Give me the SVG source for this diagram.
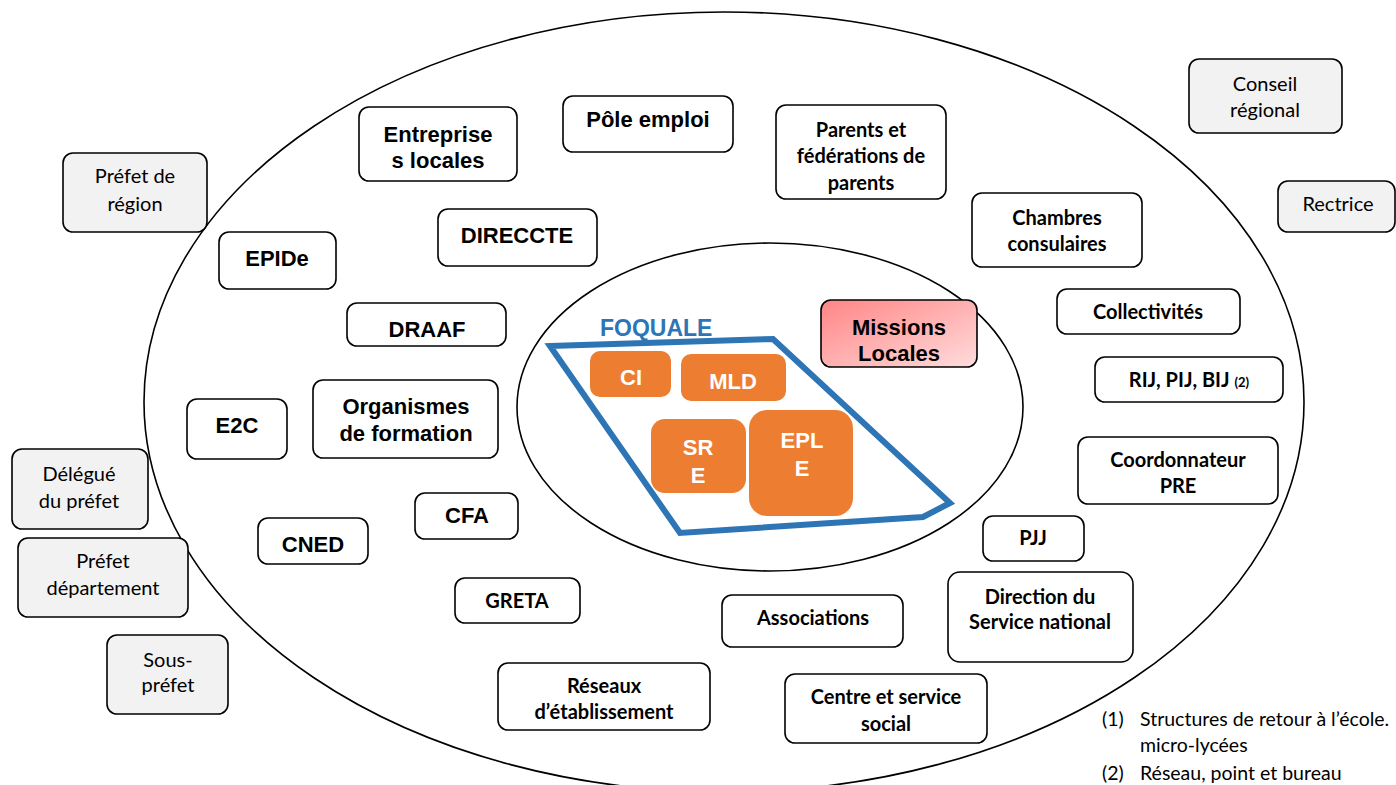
<svg xmlns="http://www.w3.org/2000/svg" width="1396" height="785" viewBox="0 0 1396 785">
<defs>
<linearGradient id="pink" x1="0" y1="0" x2="1" y2="1">
<stop offset="0" stop-color="#FF8585"/>
<stop offset="1" stop-color="#FFDCDC"/>
</linearGradient>
<style>
.box{fill:#fff;stroke:#000;stroke-width:1.6}
.grey{fill:#F2F2F2;stroke:#000;stroke-width:1.6}
.orange{fill:#ED7D31}
.ring{fill:none;stroke:#000;stroke-width:1.6}
.a{font-family:"Liberation Sans",Arial,sans-serif;font-weight:bold;font-size:22px;text-anchor:middle;fill:#000}
.c{font-family:Lato,"Open Sans",sans-serif;font-weight:bold;font-size:20px;text-anchor:middle;fill:#000}
.g{font-family:Lato,"Open Sans",sans-serif;font-size:20px;text-anchor:middle;fill:#000}
.w{fill:#fff}
.note{font-family:Lato,"Open Sans",sans-serif;font-size:19.5px;fill:#000}
</style>
</defs>
<rect width="1396" height="785" fill="#fff"/>
<g id="rings">
<ellipse class="ring" cx="724" cy="402" rx="580" ry="390"/>
<ellipse class="ring" cx="770" cy="407" rx="253" ry="164"/>
</g>
<g id="connectors"></g>
<g id="foquale">
<polygon points="550,346 773,339 950,503 923,517 680,533" fill="none" stroke="#2E75B6" stroke-width="6"/>
<text x="600" y="336" font-family="Liberation Sans, Arial, sans-serif" font-weight="bold" font-size="23" fill="#2E75B6">FOQUALE</text>
</g>
<g id="ci"><rect class="orange" x="590" y="351" width="81" height="46" rx="10"/><text class="a w" x="631" y="385">CI</text></g>
<g id="mld"><rect class="orange" x="681" y="354" width="105" height="47" rx="10"/><text class="a w" x="733" y="389">MLD</text></g>
<g id="sre"><rect class="orange" x="651" y="419" width="95" height="74" rx="14"/><text class="a w" x="698" y="455">SR</text><text class="a w" x="698" y="483">E</text></g>
<g id="eple"><rect class="orange" x="749" y="410" width="104" height="106" rx="18"/><text class="a w" x="802" y="448">EPL</text><text class="a w" x="802" y="476">E</text></g>
<g id="missions"><rect x="821" y="300" width="156" height="67" rx="10" fill="url(#pink)" stroke="#000" stroke-width="1.6"/><text class="a" x="899" y="335">Missions</text><text class="a" x="899" y="361">Locales</text></g>

<g id="entreprises"><rect class="box" x="359" y="107" width="158" height="74" rx="10"/><text class="a" x="438" y="142">Entreprise</text><text class="a" x="438" y="168">s locales</text></g>
<g id="pole"><rect class="box" x="563" y="96" width="170" height="56" rx="10"/><text class="a" x="648" y="127">Pôle emploi</text></g>
<g id="parents"><rect class="box" x="776" y="105" width="170" height="94" rx="10"/><text class="c" x="861" y="137">Parents et</text><text class="c" x="861" y="163">fédérations de</text><text class="c" x="861" y="190">parents</text></g>
<g id="direccte"><rect class="box" x="438" y="209" width="159" height="57" rx="10"/><text class="a" x="517" y="243">DIRECCTE</text></g>
<g id="epide"><rect class="box" x="219" y="232" width="117" height="57" rx="10"/><text class="a" x="277" y="266">EPIDe</text></g>
<g id="draaf"><rect class="box" x="347" y="303" width="159" height="43" rx="10"/><text class="a" x="427" y="337">DRAAF</text></g>
<g id="e2c"><rect class="box" x="187" y="399" width="100" height="60" rx="10"/><text class="a" x="237" y="433">E2C</text></g>
<g id="organismes"><rect class="box" x="313" y="380" width="185" height="78" rx="10"/><text class="a" x="406" y="414">Organismes</text><text class="a" x="406" y="441">de formation</text></g>
<g id="cned"><rect class="box" x="258" y="518" width="110" height="46" rx="10"/><text class="a" x="313" y="552">CNED</text></g>
<g id="cfa"><rect class="box" x="415" y="493" width="103" height="46" rx="10"/><text class="a" x="467" y="523">CFA</text></g>
<g id="greta"><rect class="box" x="455" y="578" width="125" height="45" rx="10"/><text class="c" x="517" y="608">GRETA</text></g>
<g id="reseaux"><rect class="box" x="498" y="663" width="212" height="67" rx="10"/><text class="c" x="604" y="693">Réseaux</text><text class="c" x="604" y="719">d’établissement</text></g>
<g id="associations"><rect class="box" x="722" y="595" width="181" height="52" rx="10"/><text class="c" x="813" y="625">Associations</text></g>
<g id="centre"><rect class="box" x="785" y="674" width="202" height="69" rx="10"/><text class="c" x="886" y="704">Centre et service</text><text class="c" x="886" y="731">social</text></g>
<g id="direction"><rect class="box" x="948" y="572" width="185" height="90" rx="12"/><text class="c" x="1040" y="604">Direction du</text><text class="c" x="1040" y="629">Service national</text></g>
<g id="pjj"><rect class="box" x="983" y="516" width="101" height="45" rx="10"/><text class="c" x="1033" y="545">PJJ</text></g>
<g id="coordonnateur"><rect class="box" x="1078" y="437" width="200" height="67" rx="10"/><text class="c" x="1178" y="467">Coordonnateur</text><text class="c" x="1178" y="493">PRE</text></g>
<g id="rij"><rect class="box" x="1095" y="357" width="188" height="45" rx="10"/><text class="c" x="1189" y="387">RIJ, PIJ, BIJ <tspan font-size="13">(2)</tspan></text></g>
<g id="collectivites"><rect class="box" x="1057" y="289" width="183" height="45" rx="10"/><text class="c" x="1148" y="319">Collectivités</text></g>
<g id="chambres"><rect class="box" x="972" y="193" width="170" height="74" rx="10"/><text class="c" x="1057" y="225">Chambres</text><text class="c" x="1057" y="251">consulaires</text></g>

<g id="conseil"><rect class="grey" x="1189" y="59" width="153" height="74" rx="10"/><text class="g" x="1265" y="91">Conseil</text><text class="g" x="1265" y="117">régional</text></g>
<g id="rectrice"><rect class="grey" x="1278" y="181" width="117" height="51" rx="10"/><text class="g" x="1338" y="211">Rectrice</text></g>
<g id="prefet-region"><rect class="grey" x="63" y="153" width="144" height="79" rx="10"/><text class="g" x="135" y="183">Préfet de</text><text class="g" x="135" y="211">région</text></g>
<g id="delegue"><rect class="grey" x="12" y="449" width="136" height="80" rx="10"/><text class="g" x="79" y="481">Délégué</text><text class="g" x="79" y="508">du préfet</text></g>
<g id="prefet-dep"><rect class="grey" x="18" y="538" width="170" height="79" rx="10"/><text class="g" x="103" y="568">Préfet</text><text class="g" x="103" y="595">département</text></g>
<g id="sous-prefet"><rect class="grey" x="107" y="635" width="121" height="79" rx="10"/><text class="g" x="168" y="667">Sous-</text><text class="g" x="168" y="692">préfet</text></g>

<g id="notes">
<text class="note" x="1102" y="726">(1)</text><text class="note" x="1140" y="726">Structures de retour à l’école.</text>
<text class="note" x="1140" y="752">micro-lycées</text>
<text class="note" x="1102" y="780">(2)</text><text class="note" x="1140" y="780">Réseau, point et bureau</text>
</g>
</svg>
